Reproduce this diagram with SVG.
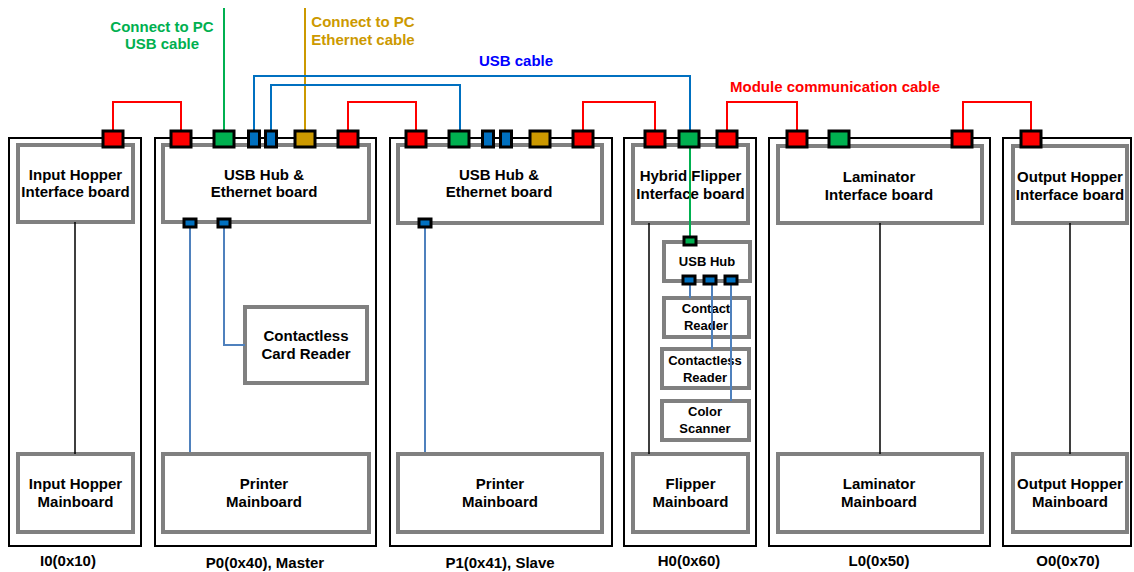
<svg xmlns="http://www.w3.org/2000/svg" width="1134" height="572" viewBox="0 0 1134 572">
<style>
text{font-family:"Liberation Sans",Arial,sans-serif;font-weight:bold;font-size:15px;text-anchor:middle;fill:#000}
.mod{fill:#fff;stroke:#000;stroke-width:2}
.brd{fill:#fff;stroke:#808080;stroke-width:4}
.sm{font-size:13px}
.red{fill:#FF0000;stroke:#000;stroke-width:3}
.grn{fill:#00B050;stroke:#000;stroke-width:3}
.blu{fill:#0070C0;stroke:#000;stroke-width:3}
.gld{fill:#CC9900;stroke:#000;stroke-width:3}
.cr{fill:none;stroke:#FF0000;stroke-width:2}
.cg{fill:none;stroke:#00B050;stroke-width:2}
.cb{fill:none;stroke:#0070C0;stroke-width:2}
.cy{fill:none;stroke:#CC9900;stroke-width:2}
.ci{fill:none;stroke:#4F81BD;stroke-width:2}
.ck{fill:none;stroke:#000;stroke-width:1.5}
</style>
<rect width="1134" height="572" fill="#fff"/>
<g id="module-I0"><rect class="mod" x="9" y="138" width="132" height="408"/><text x="68" y="566">I0(0x10)</text></g>
<g id="module-P0"><rect class="mod" x="155" y="138" width="221" height="408"/><text x="265" y="568">P0(0x40), Master</text></g>
<g id="module-P1"><rect class="mod" x="390" y="138" width="222" height="408"/><text x="500" y="568">P1(0x41), Slave</text></g>
<g id="module-H0"><rect class="mod" x="624" y="138" width="132" height="408"/><text x="689" y="566">H0(0x60)</text></g>
<g id="module-L0"><rect class="mod" x="769" y="138" width="221" height="408"/><text x="879" y="566">L0(0x50)</text></g>
<g id="module-O0"><rect class="mod" x="1003" y="138" width="128" height="408"/><text x="1068" y="566">O0(0x70)</text></g>

<g id="I0-interface"><rect class="brd" x="18" y="145" width="115" height="77"/><text x="75.5" y="180">Input Hopper</text><text x="75.5" y="197">Interface board</text></g>
<g id="P0-interface"><rect class="brd" x="163" y="145" width="206" height="77"/><text x="264" y="180">USB Hub &amp;</text><text x="264" y="197">Ethernet board</text></g>
<g id="P1-interface"><rect class="brd" x="398" y="145" width="204" height="78"/><text x="499" y="180">USB Hub &amp;</text><text x="499" y="197">Ethernet board</text></g>
<g id="H0-interface"><rect class="brd" x="633" y="145" width="115" height="78"/><text x="690.5" y="181">Hybrid Flipper</text><text x="690.5" y="199">Interface board</text></g>
<g id="L0-interface"><rect class="brd" x="778" y="146" width="204" height="77"/><text x="879" y="182">Laminator</text><text x="879" y="200">Interface board</text></g>
<g id="O0-interface"><rect class="brd" x="1013" y="146" width="114" height="77"/><text x="1070" y="182">Output Hopper</text><text x="1070" y="200">Interface board</text></g>

<g id="I0-mainboard"><rect class="brd" x="18" y="454" width="115" height="78"/><text x="75.5" y="489">Input Hopper</text><text x="75.5" y="507">Mainboard</text></g>
<g id="P0-mainboard"><rect class="brd" x="163" y="454" width="206" height="78"/><text x="264" y="489">Printer</text><text x="264" y="507">Mainboard</text></g>
<g id="P1-mainboard"><rect class="brd" x="398" y="454" width="204" height="78"/><text x="500" y="489">Printer</text><text x="500" y="507">Mainboard</text></g>
<g id="H0-mainboard"><rect class="brd" x="633" y="454" width="115" height="78"/><text x="690.5" y="489">Flipper</text><text x="690.5" y="507">Mainboard</text></g>
<g id="L0-mainboard"><rect class="brd" x="778" y="454" width="204" height="78"/><text x="879" y="489">Laminator</text><text x="879" y="507">Mainboard</text></g>
<g id="O0-mainboard"><rect class="brd" x="1013" y="454" width="114" height="78"/><text x="1070" y="489">Output Hopper</text><text x="1070" y="507">Mainboard</text></g>

<g id="P0-card-reader"><rect class="brd" x="245" y="307" width="122" height="76"/><text x="306" y="341">Contactless</text><text x="306" y="359">Card Reader</text></g>
<g id="H0-usb-hub"><rect class="brd" x="664" y="242" width="86" height="39"/><text class="sm" x="707" y="266">USB Hub</text></g>
<g id="H0-contact-reader"><rect class="brd" x="664" y="298" width="85" height="39"/><text class="sm" x="706" y="313">Contact</text><text class="sm" x="706" y="330">Reader</text></g>
<g id="H0-contactless-reader"><rect class="brd" x="662" y="349" width="87" height="39"/><text class="sm" x="705" y="365">Contactless</text><text class="sm" x="705" y="382">Reader</text></g>
<g id="H0-color-scanner"><rect class="brd" x="662" y="401" width="87" height="39"/><text class="sm" x="705" y="416">Color</text><text class="sm" x="705" y="433">Scanner</text></g>

<g id="connectors">
<path class="ck" d="M75 222V454M649 223V454M880 223V454M1070 223V454"/>
<path class="cr" d="M113 131V102H181V131M348 131V102H416V131M583 131V102H655V131M727 131V102H797V131M963 131V102H1031V131"/>
<path class="cg" d="M224 131V8"/>
<path class="cy" d="M305 131V8"/>
<path class="cb" d="M254 131V76H690V131M271 131V85H460V131"/>
<path class="cg" d="M690 148V238"/>
<path class="ci" d="M190 227V452M224 227V345H245M425 227V452M690 284V298M712 284V349M731 284V401"/>
</g>

<g id="ports">
<rect class="red" x="103" y="131" width="20" height="16"/>
<rect class="red" x="171" y="131" width="20" height="16"/>
<rect class="grn" x="214" y="131" width="20" height="16"/>
<rect class="blu" x="248.5" y="131" width="11" height="16"/>
<rect class="blu" x="265.5" y="131" width="11" height="16"/>
<rect class="gld" x="295" y="131" width="20" height="16"/>
<rect class="red" x="338" y="131" width="20" height="16"/>
<rect class="red" x="406" y="131" width="20" height="16"/>
<rect class="grn" x="449" y="131" width="20" height="16"/>
<rect class="blu" x="482.5" y="131" width="11" height="16"/>
<rect class="blu" x="500.5" y="131" width="11" height="16"/>
<rect class="gld" x="530" y="131" width="20" height="16"/>
<rect class="red" x="573" y="131" width="20" height="16"/>
<rect class="red" x="645" y="131" width="20" height="16"/>
<rect class="grn" x="679" y="131" width="20" height="16"/>
<rect class="red" x="717" y="131" width="20" height="16"/>
<rect class="red" x="787" y="131" width="20" height="16"/>
<rect class="grn" x="829" y="131" width="20" height="16"/>
<rect class="red" x="952" y="131" width="20" height="16"/>
<rect class="red" x="1021" y="131" width="20" height="16"/>
<rect class="blu" x="184" y="219" width="12" height="8" stroke-width="2.5"/>
<rect class="blu" x="218" y="219" width="12" height="8" stroke-width="2.5"/>
<rect class="blu" x="419" y="219" width="12" height="8" stroke-width="2.5"/>
<rect class="grn" x="684" y="237" width="12" height="8" stroke-width="2.5"/>
<rect class="blu" x="683" y="276" width="12" height="8" stroke-width="2.5"/>
<rect class="blu" x="704" y="276" width="12" height="8" stroke-width="2.5"/>
<rect class="blu" x="725" y="276" width="12" height="8" stroke-width="2.5"/>
</g>

<g id="labels">
<text x="162" y="32" fill="#00B050" style="fill:#00B050">Connect to PC</text>
<text x="162" y="49" style="fill:#00B050">USB cable</text>
<text x="363" y="27" style="fill:#CC9900">Connect to PC</text>
<text x="363" y="45" style="fill:#CC9900">Ethernet cable</text>
<text x="516" y="66" style="fill:#0000FF">USB cable</text>
<text x="835" y="92" style="fill:#FF0000">Module communication cable</text>
</g>
</svg>
